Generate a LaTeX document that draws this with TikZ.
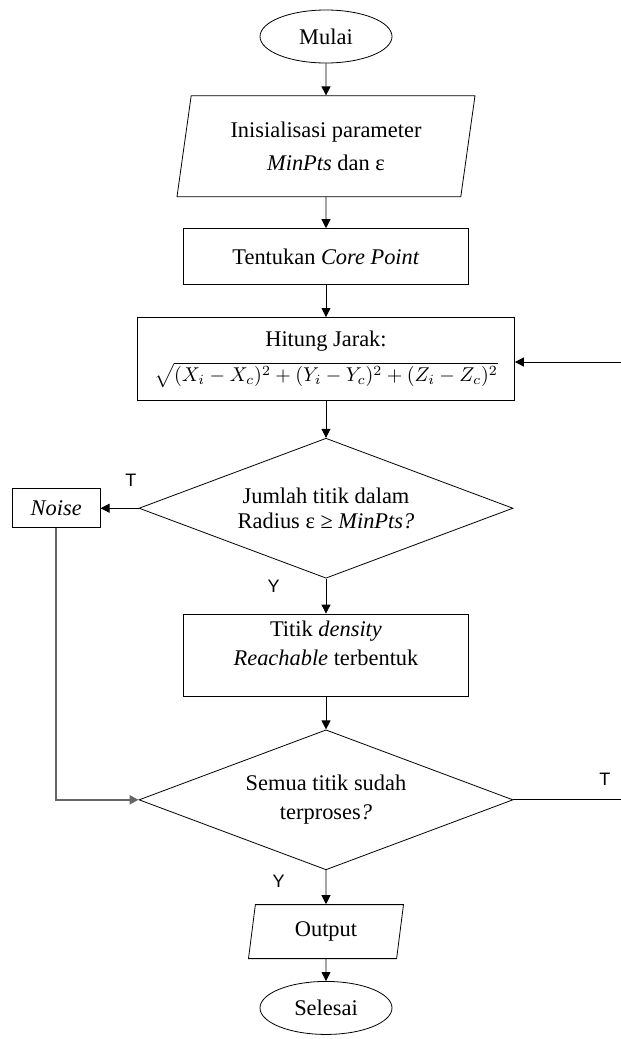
\documentclass[tikz,border=0pt]{standalone}
\usepackage{fontspec}
\setmainfont{Liberation Serif}
\newfontfamily\labelfont{Liberation Sans}
\usepackage{tikz}
\usetikzlibrary{shapes.geometric, positioning, arrows.meta}
\tikzset{
->, % every connector gets a head
>={Triangle[length=4.5pt,width=4.5pt]}, % small filled heads
line width=0.75pt,
node distance=16pt, % gap between the boxes of the main column
every node/.style={font=\fontsize{11.2pt}{13.6pt}\selectfont, align=center},
terminal/.style={ellipse, draw, minimum width=66pt, minimum height=26.5pt, inner sep=0pt}, % Mulai / Selesai
io/.style={trapezium, draw, trapezium left angle=76, trapezium right angle=104, trapezium stretches body, inner sep=2pt},
process/.style={rectangle, draw, minimum width=142.5pt, minimum height=28pt},
decision/.style={diamond, draw, aspect=2.67, minimum width=187pt, minimum height=70pt, inner sep=1pt},
lbl/.style={font=\labelfont\fontsize{9pt}{11pt}\selectfont, inner sep=0pt}, % T and Y
}
\begin{document}
\begin{tikzpicture}[x=0.5pt, y=-0.5pt]
                \useasboundingbox (0,0) rectangle (621,1039);
                \node[terminal] (mulai) at (326,36.5) {Mulai};
                \node[io, below=of mulai, minimum width=149pt, minimum height=50.5pt] (init) {Inisialisasi parameter\\[3pt] \textit{MinPts} dan ε};
                \node[process, below=15.5pt of init] (core) {Tentukan \textit{Core Point}};
                \node[process, below=of core, minimum width=188.5pt, minimum height=41.5pt] (jarak) {Hitung Jarak:\\[4pt] {\fontsize{10pt}{12pt}\selectfont $\sqrt{(X_i - X_c)^2 + (Y_i - Y_c)^2 + (Z_i - Z_c)^2}$}};
                \node[decision, below=18.5pt of jarak] (cek) {Jumlah titik dalam\\[-1pt] Radius ε ≥ \textit{MinPts?}};
                \node[process, left=19pt of cek, minimum width=44pt, minimum height=19.5pt] (noise) {\textit{Noise}};
                \node[process, below=17.5pt of cek, minimum height=41pt] (reach) {Titik \textit{density}\\[1pt] \textit{Reachable} terbentuk\\[-2pt]\mbox{}};
                \node[decision, below=16.5pt of reach] (semua) {Semua titik sudah\\[1pt] terproses\textit{?}};
                \node[io, below=17pt of semua, minimum width=77.5pt, minimum height=27pt] (output) {Output};
                \node[terminal, below=11pt of output] (selesai) {Selesai};
                \coordinate (masuk) at (621,362);
                \coordinate (keluar) at (semua.east -| 621,0);
                \draw (mulai) -- (init);
                \draw (init) -- (core);
                \draw (core) -- (jarak);
                \draw (jarak) -- (cek);
                \draw (cek) -- node[lbl, above=10.7pt, pos=0.2] {T} (noise);
                \draw (cek) -- node[lbl, left=23pt, pos=0.23] {Y} (reach);
                \draw (reach) -- (semua);
                \draw[draw=black!60, line width=1pt] (noise) |- (semua);
                \draw[-] (semua) -- node[lbl, above=7pt, pos=0.85] {T} (keluar);
                \draw (semua) -- node[lbl, left=20.5pt, pos=0.34] {Y} (output);
                \draw (output) -- (selesai);
                \draw (masuk) -- (masuk -| jarak.east);
                \end{tikzpicture}
\end{document}
